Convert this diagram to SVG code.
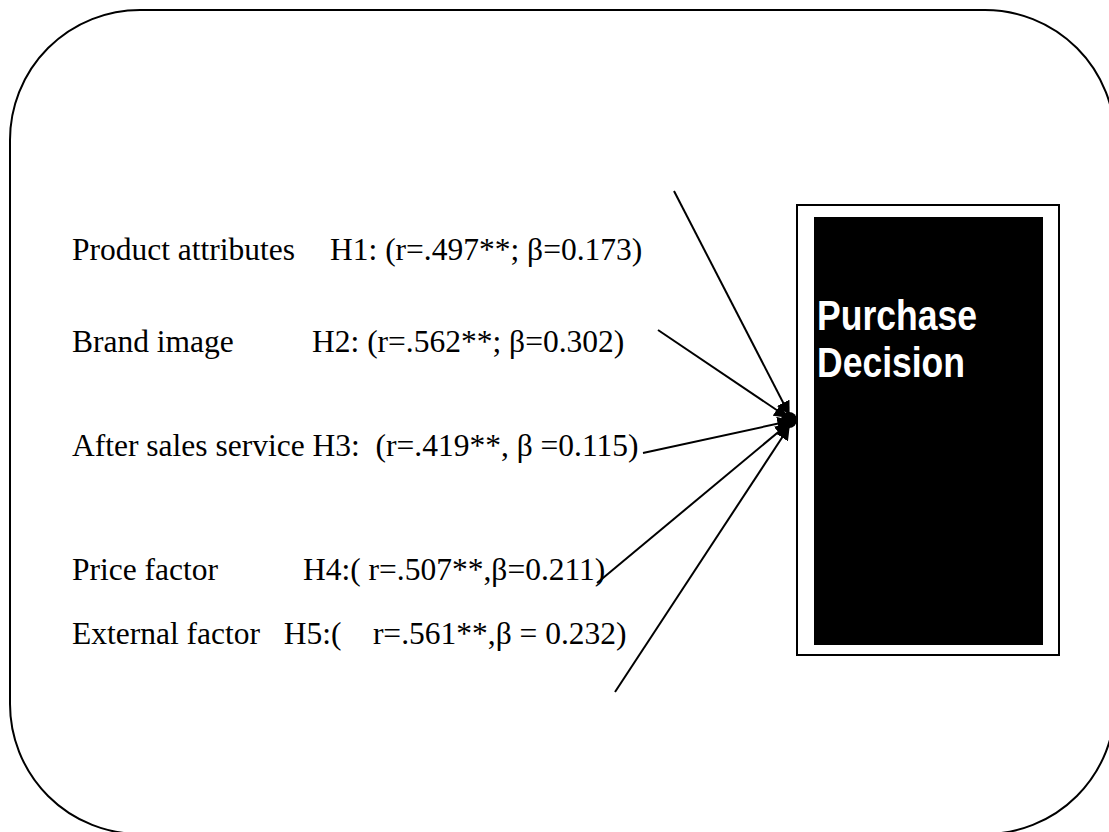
<svg xmlns="http://www.w3.org/2000/svg" width="1109" height="832" viewBox="0 0 1109 832">
<defs>
<style>
.lbl{font-family:"Liberation Serif","Times New Roman",serif;font-size:31.5px;fill:#000;white-space:pre}
.conn{stroke:#000;stroke-width:2;fill:none}
.title{font-family:"Liberation Sans Narrow","Liberation Sans",Arial,sans-serif;font-weight:bold;font-size:42px;fill:#fff}
</style>
<marker id="arr" viewBox="0 0 10 10" refX="9" refY="5" markerWidth="7" markerHeight="7" orient="auto" markerUnits="strokeWidth">
<path d="M0,0 L10,5 L0,10 z" fill="#000"/>
</marker>
</defs>
<rect width="1109" height="832" fill="#fff"/>
<g id="frame">
<rect x="10" y="10" width="1105" height="824" rx="130" ry="130" fill="none" stroke="#000" stroke-width="2"/>
</g>
<g id="labels">
<text id="n1" class="lbl" x="72" y="260">Product attributes<tspan x="330">H1: (r=.497**; β=0.173)</tspan></text>
<text id="n2" class="lbl" x="72" y="352">Brand image<tspan x="312">H2: (r=.562**; β=0.302)</tspan></text>
<text id="n3" class="lbl" x="72" y="456" xml:space="preserve">After sales service H3:  (r=.419**, β =0.115)</text>
<text id="n4" class="lbl" x="72" y="580">Price factor<tspan x="303">H4:( r=.507**,β=0.211)</tspan></text>
<text id="n5" class="lbl" x="72" y="644" xml:space="preserve">External factor   H5:(    r=.561**,β = 0.232)</text>
</g>
<g id="connectors">
<line class="conn" x1="674" y1="191" x2="789" y2="414" marker-end="url(#arr)"/>
<line class="conn" x1="658" y1="330" x2="787" y2="417" marker-end="url(#arr)"/>
<line class="conn" x1="643" y1="453" x2="790" y2="421" marker-end="url(#arr)"/>
<line class="conn" x1="597" y1="583" x2="788" y2="424" marker-end="url(#arr)"/>
<line class="conn" x1="615" y1="692" x2="789" y2="427" marker-end="url(#arr)"/>
<circle cx="789" cy="420" r="8" fill="#000"/>
</g>
<g id="purchase-decision">
<rect x="797" y="205" width="262" height="450" fill="#fff" stroke="#000" stroke-width="2"/>
<rect x="814" y="217" width="229" height="428" fill="#000"/>
<text class="title" x="817" y="330" textLength="160" lengthAdjust="spacingAndGlyphs">Purchase</text>
<text class="title" x="817" y="377" textLength="148" lengthAdjust="spacingAndGlyphs">Decision</text>
</g>
</svg>
